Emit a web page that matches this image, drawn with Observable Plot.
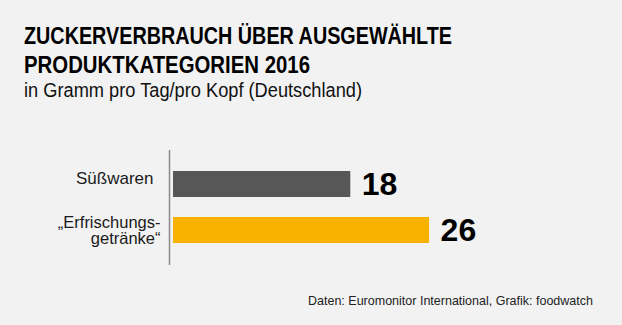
<!DOCTYPE html>
<html><head><meta charset="utf-8">
<script src="https://cdn.jsdelivr.net/npm/d3@7"></script>
<script src="https://cdn.jsdelivr.net/npm/@observablehq/plot@0.6"></script>
<style>
html,body{margin:0;padding:0;background:#f2f2f2;}
#wrap{position:relative;width:622px;height:325px;background:#f2f2f2;overflow:hidden;font-family:"Liberation Sans",Arial,sans-serif;}
.t{position:absolute;white-space:nowrap;transform-origin:0 0;}
#t1,#t2{font-weight:bold;font-size:24.5px;line-height:29px;color:#000;left:24px;}
#t1{top:20.5px;} #t2{top:49.5px;}
#sub{font-size:20px;line-height:20px;top:79.8px;left:24px;color:#111;}
#foot{font-size:13px;line-height:13px;top:294px;left:308px;color:#222;}
#chart{position:absolute;left:0;top:150px;}
</style></head>
<body><div id="wrap">
<div class="t" id="t1">ZUCKERVERBRAUCH ÜBER AUSGEWÄHLTE</div>
<div class="t" id="t2">PRODUKTKATEGORIEN 2016</div>
<div class="t" id="sub">in Gramm pro Tag/pro Kopf (Deutschland)</div>
<div class="t" id="foot">Daten: Euromonitor International, Grafik: foodwatch</div>
<div id="chart"></div>
</div>
<script>
const categories = ["Süßwaren", "„Erfrischungs-\ngetränke“"];
const values = [18, 26];
const colors = ["#575757", "#f9b200"];
const data = categories.map((c, i) => ({category: c, value: values[i], color: colors[i]}));

function fit(id, w) {
  const el = document.getElementById(id);
  const cur = el.getBoundingClientRect().width;
  el.style.transform = `scaleX(${w / cur})`;
}
fit("t1", 428); fit("t2", 286); fit("sub", 338); fit("foot", 285);

const chart = Plot.plot({
  width: 622,
  height: 115,
  marginTop: 0, marginBottom: 0, marginLeft: 173, marginRight: 55,
  style: {background: "transparent", fontFamily: "Liberation Sans, Arial, sans-serif"},
  x: {domain: [0, 40], axis: null},
  y: {domain: categories, paddingInner: 0.43, paddingOuter: 0.45, axis: null},
  marks: [
    Plot.barX(data, {y: "category", x: "value", fill: "color"}),
    Plot.ruleX([0], {dx: -4, stroke: "#8a8a8a", strokeWidth: 1.5}),
    Plot.text(data, {x: "value", y: "category", text: d => String(d.value), dx: 11, textAnchor: "start", fontSize: 32, fontWeight: "bold", fill: "#000"}),
    Plot.text(data.slice(0, 1), {x: 0, y: "category", text: "category", dx: -20, dy: -6, textAnchor: "end", fontSize: 17, fill: "#1a1a1a"}),
    Plot.text(data.slice(1), {x: 0, y: "category", text: "category", dx: -13, textAnchor: "end", fontSize: 16.5, lineHeight: 1, fill: "#1a1a1a"})
  ]
});
document.getElementById("chart").appendChild(chart);
</script>
</body></html>
